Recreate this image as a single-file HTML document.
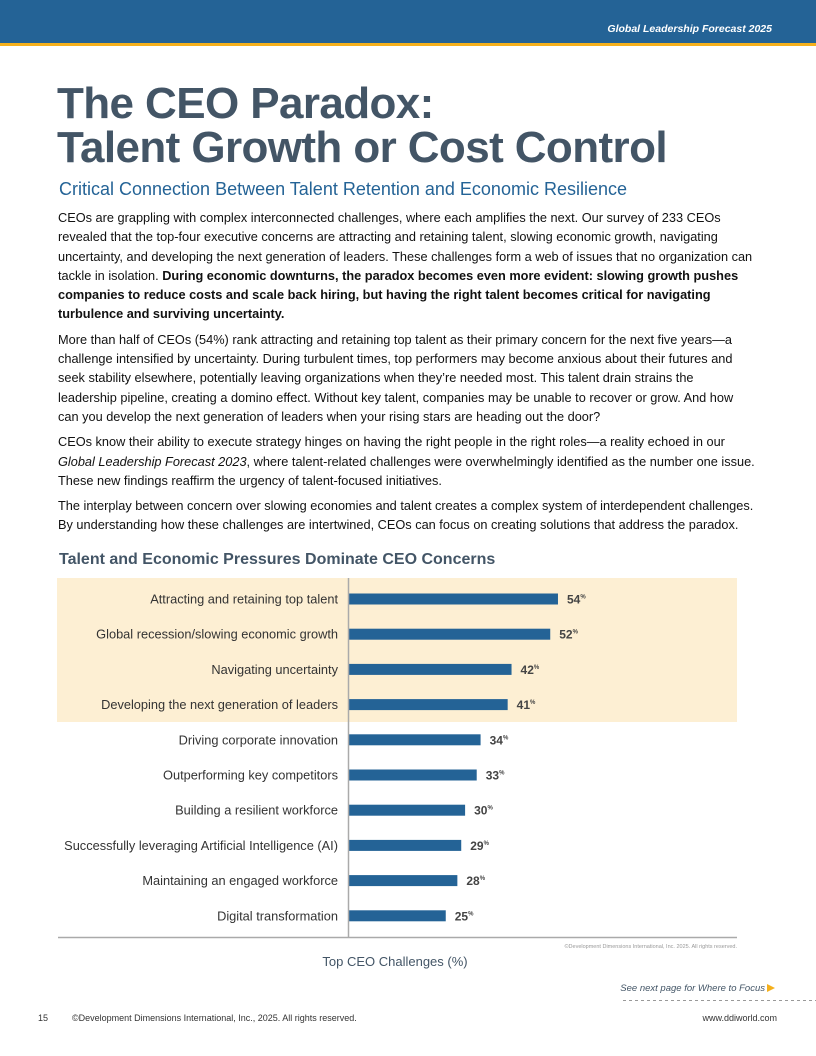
<!DOCTYPE html>
<html><head><meta charset="utf-8"><style>
body{margin:0;width:816px;height:1056px;position:relative;background:#fff;font-family:"Liberation Sans",Arial,sans-serif;overflow:hidden}
.abs{position:absolute}
#hdr{left:0;top:0;width:816px;height:43px;background:#246396}
#hdrline{left:0;top:43px;width:816px;height:3px;background:#f5b01c}
#hdrtxt{right:44px;top:23px;color:#fff;font-size:10.5px;font-style:italic;font-weight:bold}
h1{position:absolute;left:57px;top:82px;margin:0;font-size:44px;line-height:44px;color:#435566;font-weight:bold;letter-spacing:-0.6px}
h2{position:absolute;left:59px;top:179px;margin:0;font-size:18px;font-weight:normal;color:#246396}
#body{left:58px;top:208px;width:702px;font-size:12.75px;line-height:19.3px;color:#111}
#body p{margin:0 0 6px 0}
#ctitle{left:59px;top:551px;font-size:16px;font-weight:bold;color:#435566}
svg text{font-family:"Liberation Sans",Arial,sans-serif}
</style></head><body>
<div id="hdr" class="abs"></div>
<div id="hdrline" class="abs"></div>
<div id="hdrtxt" class="abs">Global Leadership Forecast 2025</div>
<h1>The CEO Paradox:<br>Talent Growth or Cost Control</h1>
<h2>Critical Connection Between Talent Retention and Economic Resilience</h2>
<div id="body" class="abs">
<p>CEOs are grappling with complex interconnected challenges, where each amplifies the next. Our survey of 233 CEOs revealed that the top-four executive concerns are attracting and retaining talent, slowing economic growth, navigating uncertainty, and developing the next generation of leaders. These challenges form a web of issues that no organization can tackle in isolation. <b>During economic downturns, the paradox becomes even more evident: slowing growth pushes companies to reduce costs and scale back hiring, but having the right talent becomes critical for navigating turbulence and surviving uncertainty.</b></p>
<p>More than half of CEOs (54%) rank attracting and retaining top talent as their primary concern for the next five years—a challenge intensified by uncertainty. During turbulent times, top performers may become anxious about their futures and seek stability elsewhere, potentially leaving organizations when they’re needed most. This talent drain strains the<br>leadership pipeline, creating a domino effect. Without key talent, companies may be unable to recover or grow. And how<br>can you develop the next generation of leaders when your rising stars are heading out the door?</p>
<p>CEOs know their ability to execute strategy hinges on having the right people in the right roles—a reality echoed in our <i>Global Leadership Forecast 2023</i>, where talent-related challenges were overwhelmingly identified as the number one issue. These new findings reaffirm the urgency of talent-focused initiatives.</p>
<p>The interplay between concern over slowing economies and talent creates a complex system of interdependent challenges. By understanding how these challenges are intertwined, CEOs can focus on creating solutions that address the paradox.</p>
</div>
<div id="ctitle" class="abs">Talent and Economic Pressures Dominate CEO Concerns</div>
<svg class="abs" style="left:0;top:0" width="816" height="1056" id="chart">
<rect x="57" y="578" width="680" height="144" fill="#fdefd3"/>
<g id="bars"></g>
<line x1="348.5" y1="578" x2="348.5" y2="937" stroke="#aaa" stroke-width="1.5"/>
<line x1="58" y1="937.5" x2="737" y2="937.5" stroke="#aaa" stroke-width="1.5"/>
<text x="737" y="948" font-size="5.5" fill="#999" text-anchor="end">©Development Dimensions International, Inc. 2025. All rights reserved.</text>
<text x="395" y="966" font-size="13" fill="#435566" text-anchor="middle">Top CEO Challenges (%)</text>
<text x="765" y="991" font-size="9.5" fill="#435566" font-style="italic" text-anchor="end">See next page for Where to Focus</text>
<polygon points="767,984 775,988 767,992" fill="#f5b01c"/>
<line x1="623" y1="1000.5" x2="816" y2="1000.5" stroke="#999" stroke-dasharray="3,3"/>
<text x="38" y="1021" font-size="9" fill="#333">15</text>
<text x="72" y="1021" font-size="9" fill="#333">©Development Dimensions International, Inc., 2025. All rights reserved.</text>
<text x="777" y="1021" font-size="9" fill="#333" text-anchor="end">www.ddiworld.com</text>
</svg>
<script>
const categories=["Attracting and retaining top talent","Global recession/slowing economic growth","Navigating uncertainty","Developing the next generation of leaders","Driving corporate innovation","Outperforming key competitors","Building a resilient workforce","Successfully leveraging Artificial Intelligence (AI)","Maintaining an engaged workforce","Digital transformation"];
const values=[54,52,42,41,34,33,30,29,28,25];
const x0=349,pxPer=3.87,y0=599,step=35.2,bh=11;
const xs=v=>x0+v*pxPer, ys=i=>y0+i*step;
const g=document.getElementById('bars'),NS='http://www.w3.org/2000/svg';
categories.forEach((c,i)=>{
 const y=ys(i);
 const r=document.createElementNS(NS,'rect');
 r.setAttribute('x',x0);r.setAttribute('y',y-bh/2);r.setAttribute('width',xs(values[i])-x0);r.setAttribute('height',bh);r.setAttribute('fill','#246396');
 
 
 g.appendChild(r);
 const l=document.createElementNS(NS,'text');
 l.setAttribute('x',338);l.setAttribute('y',y+4.5);l.setAttribute('text-anchor','end');l.setAttribute('font-size','12.8');l.setAttribute('fill','#333');
 l.textContent=c;
 
 
 g.appendChild(l);
 const t=document.createElementNS(NS,'text');
 t.setAttribute('x',xs(values[i])+9);t.setAttribute('y',y+4.5);t.setAttribute('font-size','12');t.setAttribute('font-weight','bold');t.setAttribute('fill','#444');
 t.innerHTML=values[i]+'<tspan font-size="6" dy="-5">%</tspan>';
 
 
 g.appendChild(t);
});
</script>
</body></html>
